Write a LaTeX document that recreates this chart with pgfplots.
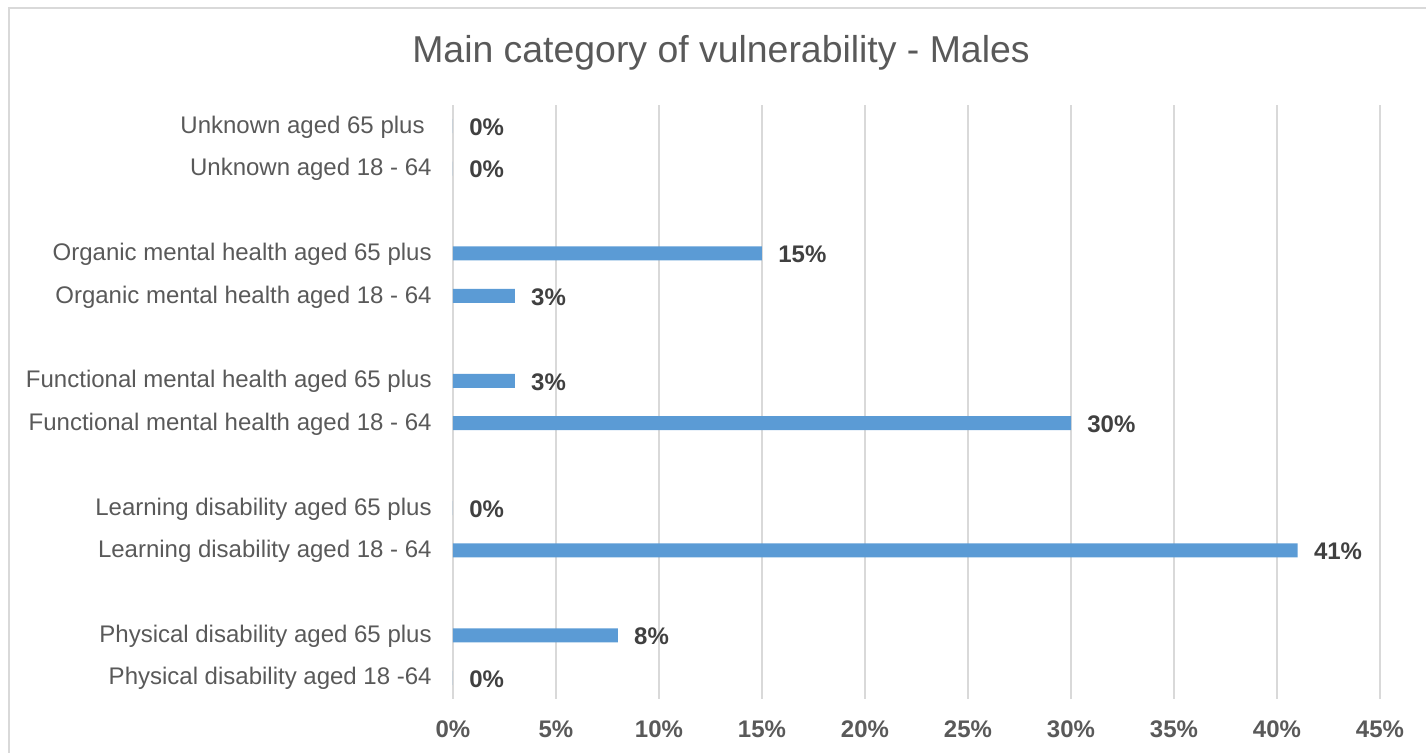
\documentclass[border=0pt]{standalone}
\usepackage{pgfplots}
\pgfplotsset{compat=1.18}
\usepackage{fontspec}
\setmainfont{Liberation Sans}
\definecolor{barc}{HTML}{5B9BD5}
\definecolor{txt}{HTML}{595959}
\definecolor{grd}{HTML}{D9D9D9}
\definecolor{dlab}{HTML}{404040}
\begin{document}
\begin{tikzpicture}
\useasboundingbox (0,0) rectangle (713pt,376.5pt);
\draw[grd, line width=0.6pt] (4.5pt,-10pt) -- (4.5pt,372.5pt) -- (730pt,372.5pt);
\node[anchor=base, font=\fontsize{18.7}{22}\selectfont, text=txt, inner sep=0pt] at (360.5pt,345pt) {Main category of vulnerability - Males};
\begin{axis}[
  at={(226.5pt,27pt)}, anchor=south west,
  scale only axis, width=463.5pt, height=297pt,
  xbar, bar width=7pt,
  xmin=0, xmax=45, ymin=-0.5, ymax=13.5,
  xtick={0,5,...,45},
  xticklabel={\pgfmathprintnumber[assume math mode=true]{\tick}\%},
  ytick={0,1,3,4,6,7,9,10,12,13},
  yticklabels={Physical disability aged 18 -64, Physical disability aged 65 plus, Learning disability aged 18 - 64, Learning disability aged 65 plus, Functional mental health aged 18 - 64, Functional mental health aged 65 plus, Organic mental health aged 18 - 64, Organic mental health aged 65 plus, Unknown aged 18 - 64, Unknown aged 65 plus\kern3.5pt},
  axis line style={draw=none},
  major tick length=0pt,
  xmajorgrids, grid style={grd, line width=0.75pt},
  ticklabel style={font=\fontsize{12}{14}\selectfont, text=txt},
  xticklabel style={font=\bfseries\fontsize{12}{14}\selectfont, anchor=north, inner sep=0pt, yshift=-10.5pt},
  yticklabel style={anchor=east, inner sep=0pt, xshift=-10.5pt, yshift=-0.5pt},
  point meta=x,
  nodes near coords={\pgfmathprintnumber[assume math mode=true]{\pgfplotspointmeta}\%},
  nodes near coords style={font=\bfseries\fontsize{12}{14}\selectfont, text=dlab, anchor=west, inner sep=0pt, xshift=8pt, yshift=-0.5pt},
  clip=false,
]
\addplot[fill=barc, draw=none] coordinates {(0,0) (8,1) (41,3) (0,4) (30,6) (3,7) (3,9) (15,10) (0,12) (0,13)};
\end{axis}
\end{tikzpicture}
\end{document}
